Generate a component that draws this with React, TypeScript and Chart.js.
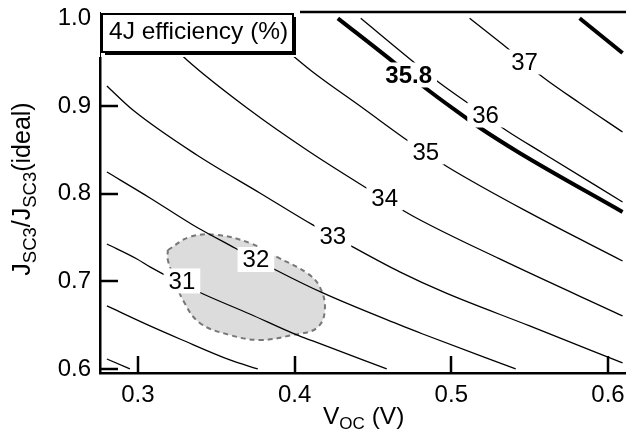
import React, { useEffect, useRef } from "react";
import { Chart, registerables } from "chart.js";

Chart.register(...registerables);

const FONT = '"Liberation Sans", Arial, Helvetica, sans-serif';

// axis ranges and ticks
const xTicks = [0.3, 0.4, 0.5, 0.6];
const yTicks = [0.6, 0.7, 0.8, 0.9, 1.0];
const xRange = [0.2758, 0.6115];
const yRange = [0.5954, 1.0072];

// contour lines of 4J efficiency: [V_OC, J_SC3/J_SC3(ideal)]
const c29 = [[0.2802, 0.6114], [0.2949, 0.6]];
const c30 = [[0.2802, 0.6719], [0.3077, 0.6491], [0.3268, 0.6342], [0.3587, 0.6103], [0.3765, 0.6]];
const c31 = [[0.2802, 0.7426], [0.2994, 0.7255], [0.3077, 0.7164], [0.3389, 0.6878], [0.3714, 0.6627], [0.4014, 0.6388], [0.4116, 0.632], [0.4435, 0.6103], [0.4588, 0.6]];
const c32 = [[0.2802, 0.8247], [0.3077, 0.7951], [0.3351, 0.7643], [0.3619, 0.738], [0.388, 0.7129], [0.418, 0.6867], [0.4671, 0.6502], [0.4818, 0.6399], [0.5411, 0.6]];
const c33 = [[0.2802, 0.9228], [0.2968, 0.8954], [0.3376, 0.8441], [0.3778, 0.8008], [0.4116, 0.7643], [0.4371, 0.7392], [0.4671, 0.7107], [0.4964, 0.6867], [0.55, 0.6491], [0.6093, 0.6069]];
const c34 = [[0.3045, 1.0], [0.3313, 0.9525], [0.3714, 0.8954], [0.4078, 0.8498], [0.4448, 0.8076], [0.4754, 0.7745], [0.5309, 0.7255], [0.6093, 0.6605]];
const c35 = [[0.3714, 1.0], [0.4014, 0.9536], [0.4116, 0.9388], [0.4435, 0.8977], [0.4735, 0.8589], [0.4977, 0.8304], [0.55, 0.778], [0.6093, 0.7232]];
const c358 = [[0.4276, 1.0], [0.4639, 0.949], [0.4818, 0.9228], [0.5085, 0.8875], [0.5175, 0.876], [0.5436, 0.8464], [0.6093, 0.7791]];
const c36 = [[0.4422, 1.0], [0.4767, 0.949], [0.4926, 0.9262], [0.5105, 0.9034], [0.5347, 0.8726], [0.5583, 0.8464], [0.6093, 0.7905]];
const c37 = [[0.5117, 1.0], [0.5372, 0.9639], [0.5583, 0.9331], [0.5819, 0.9034], [0.6093, 0.8703]];
const c38 = [[0.5819, 1.0], [0.6093, 0.9605]];

const thinContours = [c29, c30, c31, c32, c33, c34, c35, c36, c37];
const thickContours = [c358, c38];

// contour labels
const labelText = ["31", "32", "33", "34", "35", "35.8", "36", "37"];
const labelX = [0.3281, 0.3753, 0.4244, 0.4575, 0.4837, 0.4728, 0.5219, 0.5468];
const labelY = [0.7004, 0.7249, 0.7517, 0.7951, 0.8475, 0.9354, 0.8897, 0.9502];
const labelBold = [false, false, false, false, false, true, false, false];

// shaded region outline
const regionX = [0.3191, 0.3332, 0.3504, 0.3714, 0.3886, 0.4078, 0.4161, 0.4193, 0.4142, 0.3989, 0.3778, 0.3587, 0.3395, 0.3287, 0.3236, 0.3191, 0.3191];
const regionY = [0.7357, 0.7506, 0.7529, 0.7437, 0.7278, 0.7095, 0.6935, 0.6673, 0.6468, 0.6388, 0.6331, 0.6388, 0.6525, 0.6787, 0.7015, 0.7243, 0.7357];

const legendText = "4J efficiency (%)";

const toPts = (arr: number[][]) => arr.map(([x, y]) => ({ x, y }));

type Part = [string, boolean];

function richWidth(ctx: CanvasRenderingContext2D, parts: Part[], main: number, sub: number) {
  let w = 0;
  for (const [t, s] of parts) {
    ctx.font = `${s ? sub : main}px ${FONT}`;
    w += ctx.measureText(t).width;
  }
  return w;
}

function drawRich(ctx: CanvasRenderingContext2D, parts: Part[], x: number, y: number, main: number, sub: number, drop: number) {
  let cx = x;
  for (const [t, s] of parts) {
    ctx.font = `${s ? sub : main}px ${FONT}`;
    ctx.fillText(t, cx, s ? y + drop : y);
    cx += ctx.measureText(t).width;
  }
}

export default function App() {
  const ref = useRef<HTMLCanvasElement>(null);

  useEffect(() => {
    const canvas = ref.current!;

    const overlay = {
      id: "overlay",
      afterDraw(chart: any) {
        const { ctx, chartArea } = chart;
        const xs = chart.scales.x;
        const ys = chart.scales.y;
        ctx.save();
        ctx.strokeStyle = "#000";
        ctx.lineWidth = 2.5;
        // inward tick marks
        for (const v of xTicks) {
          const px = Math.round(xs.getPixelForValue(v));
          ctx.beginPath();
          ctx.moveTo(px, chartArea.bottom);
          ctx.lineTo(px, chartArea.bottom - 17);
          ctx.stroke();
        }
        for (const v of yTicks) {
          const py = Math.round(ys.getPixelForValue(v));
          ctx.beginPath();
          ctx.moveTo(chartArea.left, py);
          ctx.lineTo(chartArea.left + 18, py);
          ctx.stroke();
        }
        // top frame line
        ctx.beginPath();
        ctx.moveTo(chartArea.left, chartArea.top);
        ctx.lineTo(626, chartArea.top);
        ctx.stroke();

        // contour labels with white boxes
        ctx.textAlign = "center";
        ctx.textBaseline = "middle";
        labelText.forEach((t, i) => {
          const px = xs.getPixelForValue(labelX[i]);
          const py = ys.getPixelForValue(labelY[i]);
          ctx.font = `${labelBold[i] ? "bold " : ""}24px ${FONT}`;
          const w = ctx.measureText(t).width + 10;
          const h = 25;
          ctx.fillStyle = "#fff";
          ctx.fillRect(px - w / 2, py - h / 2, w, h);
          ctx.fillStyle = "#000";
          ctx.fillText(t, px, py + 1);
        });

        // legend area
        ctx.fillStyle = "#fff";
        ctx.fillRect(99, 3, 201, 54);
        ctx.lineWidth = 1;
        ctx.beginPath();
        ctx.moveTo(100.5, chartArea.top);
        ctx.lineTo(100.5, 57);
        ctx.stroke();
        const bx = 102, by = 14, bw = 191, bh = 38;
        ctx.fillStyle = "#000";
        ctx.fillRect(bx + 3, by + 3, bw, bh);
        ctx.fillStyle = "#fff";
        ctx.fillRect(bx, by, bw, bh);
        ctx.lineWidth = 2;
        ctx.strokeRect(bx, by, bw, bh);
        ctx.fillStyle = "#000";
        ctx.textAlign = "left";
        ctx.textBaseline = "alphabetic";
        ctx.font = `24.5px ${FONT}`;
        ctx.fillText(legendText, bx + 7, by + 25);

        // x axis title
        const xParts: Part[] = [["V", false], ["OC", true], [" (V)", false]];
        drawRich(ctx, xParts, 323, 424, 24.5, 17, 5);

        // y axis title
        const yParts: Part[] = [["J", false], ["SC3", true], ["/J", false], ["SC3", true], ["(ideal)", false]];
        const yw = richWidth(ctx, yParts, 25, 18.5);
        ctx.translate(30, 189);
        ctx.rotate(-Math.PI / 2);
        drawRich(ctx, yParts, -yw / 2, 0, 25, 18.5, 6);
        ctx.restore();
      },
    };

    const datasets: any[] = [
      {
        data: regionX.map((x, i) => ({ x, y: regionY[i] })),
        showLine: true,
        fill: "shape",
        backgroundColor: "#dcdcdc",
        borderColor: "#777777",
        borderWidth: 2,
        borderDash: [5, 4],
        tension: 0.4,
        pointRadius: 0,
        order: 10,
      },
      ...thinContours.map((c) => ({
        data: toPts(c),
        showLine: true,
        borderColor: "#000",
        borderWidth: 1.3,
        cubicInterpolationMode: "monotone",
        pointRadius: 0,
        fill: false,
        order: 1,
      })),
      ...thickContours.map((c) => ({
        data: toPts(c),
        showLine: true,
        borderColor: "#000",
        borderWidth: 4,
        cubicInterpolationMode: "monotone",
        pointRadius: 0,
        fill: false,
        order: 0,
      })),
    ];

    const tickFont = { family: FONT, size: 24 };

    const chart = new Chart(canvas, {
      type: "scatter",
      data: { datasets },
      options: {
        animation: false,
        responsive: false,
        devicePixelRatio: 1,
        layout: { padding: { top: 12, right: 0, left: 0, bottom: 0 } },
        plugins: { legend: { display: false }, tooltip: { enabled: false } },
        scales: {
          x: {
            type: "linear",
            min: xRange[0],
            max: xRange[1],
            afterBuildTicks: (s: any) => {
              s.ticks = xTicks.map((v) => ({ value: v }));
            },
            afterFit: (s: any) => {
              s.height = 59;
              s.paddingLeft = 0;
              s.paddingRight = 0;
            },
            ticks: {
              font: tickFont,
              color: "#000",
              padding: 8,
              maxRotation: 0,
              autoSkip: false,
              callback: (v: any) => Number(v).toFixed(1),
            },
            grid: { display: false, drawTicks: false },
            border: { display: true, color: "#000", width: 2.5 },
          },
          y: {
            type: "linear",
            min: yRange[0],
            max: yRange[1],
            afterBuildTicks: (s: any) => {
              s.ticks = yTicks.map((v) => ({ value: v }));
            },
            afterFit: (s: any) => {
              s.width = 100;
              s.paddingTop = 0;
              s.paddingBottom = 0;
            },
            ticks: {
              font: tickFont,
              color: "#000",
              padding: 9,
              autoSkip: false,
              callback: (v: any) => Number(v).toFixed(1),
            },
            grid: { display: false, drawTicks: false },
            border: { display: true, color: "#000", width: 2.5 },
          },
        },
      },
      plugins: [overlay],
    } as any);

    return () => chart.destroy();
  }, []);

  return (
    <div style={{ position: "absolute", left: 0, top: 0, width: 626, height: 432, background: "#fff" }}>
      <canvas ref={ref} width={626} height={432} style={{ display: "block" }} />
    </div>
  );
}
